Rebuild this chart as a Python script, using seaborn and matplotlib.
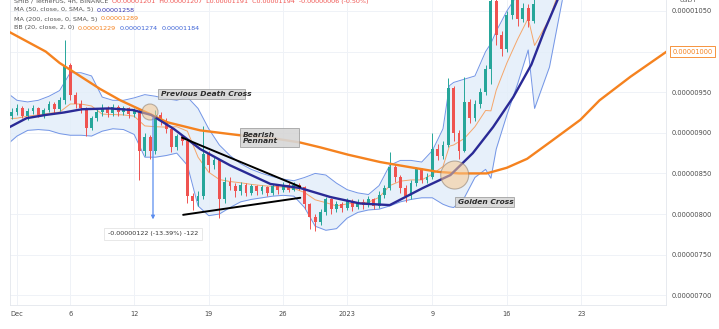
import numpy as np
import pandas as pd
import matplotlib
matplotlib.use("Agg")
import matplotlib.pyplot as plt
import matplotlib.dates as mdates
from matplotlib.patches import Rectangle, Ellipse
from matplotlib.transforms import blended_transform_factory
import seaborn as sns

# ---------------------------------------------------------------------------
# Data (prices in units of 1e-8 USDT, days counted from 2022-12-01 00:00)
# ---------------------------------------------------------------------------
BASE = pd.Timestamp("2022-12-01")
UNIT = 1e-8

candle_start = "2022-11-30 12:00"
candle_freq = "12h"
first_open = 921
close = [926, 931, 921, 927, 930, 922, 928, 936, 929, 940,
         983, 946, 936, 930, 906, 918, 926, 931, 924, 932,
         926, 930, 923, 927, 878, 895, 877, 922, 915, 905,
         882, 896, 890, 822, 816, 822, 874, 860, 866, 818,
         840, 834, 828, 836, 826, 834, 828, 833, 826, 834,
         829, 836, 830, 836, 833, 812, 796, 790, 802, 818,
         806, 812, 808, 816, 809, 815, 811, 818, 810, 824,
         832, 858, 845, 832, 822, 838, 855, 842, 846, 880,
         872, 885, 955, 900, 878, 938, 918, 935, 950, 978,
         1062, 1020, 1003, 1045, 1068, 1040, 1054, 1038, 1058]
high = [930, 935, 933, 930, 934, 932, 931, 939, 938, 944,
        1014, 986, 950, 940, 932, 921, 929, 935, 933, 936,
        934, 933, 932, 931, 929, 900, 897, 928, 925, 918,
        907, 899, 897, 892, 826, 828, 908, 878, 872, 868,
        845, 846, 838, 840, 838, 837, 836, 836, 835, 837,
        836, 839, 838, 839, 838, 835, 814, 800, 806, 821,
        820, 816, 815, 820, 818, 819, 818, 822, 820, 828,
        836, 876, 862, 848, 836, 842, 858, 857, 850, 900,
        886, 890, 967, 958, 904, 969, 942, 940, 955, 984,
        1075, 1066, 1025, 1050, 1080, 1070, 1060, 1058, 1066]
low = [917, 922, 918, 916, 923, 919, 918, 925, 924, 927,
       936, 940, 930, 924, 896, 903, 914, 921, 919, 921,
       921, 922, 918, 920, 842, 872, 868, 874, 909, 900,
       876, 879, 885, 814, 805, 810, 818, 852, 855, 795,
       814, 829, 821, 824, 822, 823, 824, 825, 822, 824,
       825, 827, 827, 828, 829, 806, 782, 779, 786, 799,
       800, 802, 803, 805, 804, 806, 806, 809, 806, 808,
       820, 829, 840, 826, 815, 819, 835, 838, 838, 843,
       866, 868, 882, 890, 868, 876, 912, 914, 930, 946,
       960, 1008, 995, 1000, 1040, 1032, 1036, 1030, 1035]

# Bollinger Bands (20, 2)
bb_day = [-0.7, 0, 1, 2, 3, 4, 5, 6, 7, 8, 9, 10, 11, 12, 13, 14, 15, 16, 17,
          18, 19, 20, 21, 22, 23, 24, 25, 26, 27, 28, 29, 30, 31, 32, 33, 34,
          35, 36, 37, 38, 39, 40, 40.6, 41, 42, 43, 44, 44.5, 45, 46, 47, 48,
          48.6, 50, 51.2]
bb_upper = [947, 940, 938, 940, 945, 952, 974, 974, 970, 944, 940, 940, 943,
            947, 945, 942, 940, 944, 930, 905, 885, 872, 862, 855, 850, 846,
            843, 841, 845, 850, 848, 838, 830, 826, 824, 835, 860, 866, 866,
            864, 878, 905, 958, 962, 966, 970, 1000, 1010, 1025, 1050, 1070,
            1080, 1085, 1100, 1110]
bb_lower = [888, 896, 903, 904, 903, 899, 897, 897, 896, 902, 905, 904, 898,
            870, 870, 872, 875, 860, 810, 798, 800, 808, 815, 818, 820, 822,
            823, 822, 808, 785, 780, 782, 795, 802, 805, 806, 810, 815, 818,
            820, 820, 812, 809, 808, 820, 845, 855, 844, 880, 922, 960, 1002,
            930, 981, 1063]

# MA 50
ma50_day = [-0.7, 0.9, 2.7, 4.4, 6.1, 8.7, 10.9, 12.6, 14.7, 17.2, 20.0, 23.8,
            26.6, 29.4, 32.2, 35.0, 38.1, 40.7, 42.8, 44.7, 46.6, 48.3, 49.5,
            50.9]
ma50 = [907, 918, 922, 925, 929, 930, 928, 922, 905, 880, 860, 837, 832, 821,
        813, 811, 832, 848, 875, 907, 944, 984, 1025, 1068]

# MA 200
ma200_day = [-0.7, 2.7, 4.0, 7.8, 9.7, 12.5, 14.1, 17.2, 20.9, 24.2, 26.6,
             28.5, 31.1, 34.1, 37.2, 39.5, 41.5, 44.1, 46.0, 47.9, 50.1, 52.9,
             54.7, 57.6, 61.0]
ma200 = [1024, 1000, 986, 954, 940, 923, 913, 903, 897, 893, 888, 882, 873,
         864, 857, 852, 850, 850, 857, 868, 889, 916, 940, 969, 1000]

# Pennant trend lines (day, price)
pennant_top = ([15.5, 26.6], [894, 833.5])
pennant_bottom = ([15.6, 26.6], [799, 820])

# Measured move
move_day = 12.77
move_from, move_to = 922, 790
move_label = "-0.00000122 (-13.39%) -122"

price_ticks = [700, 750, 800, 850, 900, 950, 1000, 1050]
date_ticks = ["2022-12-01", "2022-12-06", "2022-12-12", "2022-12-19",
              "2022-12-26", "2023-01-01", "2023-01-09", "2023-01-16",
              "2023-01-23"]
date_labels = ["Dec", "6", "12", "19", "26", "2023", "9", "16", "23"]

# ---------------------------------------------------------------------------
UP, DOWN = "#26a69a", "#ef5350"
NAVY, ORANGE = "#2a2a96", "#f5821f"
BAND, BAND_FILL, BASIS = "#7395e6", "#e2edf9", "#f5a66a"


def to_dates(days):
    return BASE + pd.to_timedelta(np.asarray(days, dtype=float), unit="D")


def dnum(day):
    return mdates.date2num(BASE + pd.Timedelta(days=day))


sns.set_theme(style="white")
plt.rcParams["font.family"] = ["DejaVu Sans"]

fig = plt.figure(figsize=(7.19, 3.29), dpi=100)
fig.patch.set_facecolor("white")
ax = fig.add_axes([10 / 719, 24 / 329, 656 / 719, 305 / 329])

candles = pd.DataFrame({
    "time": pd.date_range(candle_start, periods=len(close), freq=candle_freq),
    "close": close, "high": high, "low": low,
})
candles["open"] = [first_open] + close[:-1]
candles["rising"] = candles["close"] >= candles["open"]

bb = pd.DataFrame({"time": to_dates(bb_day), "upper": bb_upper, "lower": bb_lower})
bb["basis"] = (bb["upper"] + bb["lower"]) / 2
ma50_df = pd.DataFrame({"time": to_dates(ma50_day), "value": ma50})
ma200_df = pd.DataFrame({"time": to_dates(ma200_day), "value": ma200})

# Bollinger band area
ax.fill_between(bb["time"], bb["lower"], bb["upper"], color=BAND_FILL,
                alpha=0.8, lw=0, zorder=1)
sns.lineplot(data=bb, x="time", y="upper", ax=ax, color=BAND, lw=0.7, zorder=2)
sns.lineplot(data=bb, x="time", y="lower", ax=ax, color=BAND, lw=0.7, zorder=2)
sns.lineplot(data=bb, x="time", y="basis", ax=ax, color=BASIS, lw=0.7, zorder=2)

# Candles
colors = np.where(candles["rising"], UP, DOWN)
ax.vlines(candles["time"], candles["low"], candles["high"], colors=colors,
          lw=0.7, zorder=3)
body_low = np.minimum(candles["open"], candles["close"])
body_h = np.maximum(np.abs(candles["close"] - candles["open"]), 1.2)
ax.bar(candles["time"], body_h, bottom=body_low, width=0.27, color=colors,
       lw=0, zorder=3)

# Moving averages
sns.lineplot(data=ma200_df, x="time", y="value", ax=ax, color=ORANGE, lw=1.7,
             zorder=4)
sns.lineplot(data=ma50_df, x="time", y="value", ax=ax, color=NAVY, lw=1.7,
             zorder=4)

# Pennant lines
ax.plot(to_dates(pennant_top[0]), pennant_top[1], color="black", lw=1.4, zorder=5)
ax.plot(to_dates(pennant_bottom[0]), pennant_bottom[1], color="black", lw=1.4,
        zorder=5)

# Cross markers (circles sized in pixels)
px_per_day = 656 / (60.94 + 0.657)
px_per_unit = 305 / (1063.5 - 688)
for day, price, radius in [(12.49, 925.6, 8), (41.1, 848, 14)]:
    ax.add_patch(Ellipse((dnum(day), price), 2 * radius / px_per_day,
                         2 * radius / px_per_unit, facecolor="#f9c98f",
                         alpha=0.55, edgecolor="#8a7a6a", lw=0.8, zorder=6))

# Labelled boxes
for (d0, d1, p0, p1, label) in [
        (13.24, 21.4, 941.7, 954.0, "Previous Death Cross"),
        (20.94, 26.48, 882.5, 905.9, "Bearish\nPennant"),
        (41.13, 46.67, 808.6, 820.9, "Golden Cross")]:
    ax.add_patch(Rectangle((dnum(d0), p0), dnum(d1) - dnum(d0), p1 - p0,
                           facecolor="#d6d6d6", edgecolor="#9a9a9a", lw=0.6,
                           alpha=0.9, zorder=7))
    ax.text(dnum(d0) + 0.25, (p0 + p1) / 2, label, ha="left", va="center",
            fontsize=5.4, fontstyle="italic", fontweight="bold",
            color="#2b2b2b", linespacing=1.0, zorder=8)

# Measured move arrow and label
ax.annotate("", xy=(dnum(move_day), move_to), xytext=(dnum(move_day), move_from),
            arrowprops=dict(arrowstyle="-|>", color="#5b8def", lw=0.9,
                            mutation_scale=5), zorder=6)
ax.text(dnum(move_day), 776, move_label, ha="center", va="center",
        fontsize=4.6, color="#333333", zorder=8,
        bbox=dict(boxstyle="square,pad=0.55", facecolor="white",
                  edgecolor="#e4e4e4", lw=0.6))

# Axes limits, ticks and grid
ax.set_xlim(BASE - pd.Timedelta(days=0.657), BASE + pd.Timedelta(days=60.94))
ax.set_ylim(688, 1063.5)
ax.set_xlabel("")
ax.set_ylabel("")
ax.set_xticks(pd.to_datetime(date_ticks))
ax.set_xticklabels(date_labels)
ax.yaxis.tick_right()
ax.set_yticks(price_ticks)
ax.set_yticklabels([f"{v * UNIT:.8f}" for v in price_ticks])
ax.tick_params(axis="both", length=0, labelsize=4.8, labelcolor="#4a4a4a")
ax.tick_params(axis="x", pad=4.2)
ax.tick_params(axis="y", pad=4.0)
ax.grid(True, color="#eff2f7", lw=0.7, zorder=0)
ax.set_axisbelow(True)
for side, spine in ax.spines.items():
    spine.set_color("#e3e6ec")
    spine.set_linewidth(0.6)
ax.spines["top"].set_visible(False)

# Last MA200 value tag on the price scale
tag_tr = blended_transform_factory(ax.transAxes, ax.transData)
ax.text(1.0095, 1000, f"{1000 * UNIT:.8f}", transform=tag_tr, ha="left",
        va="center", fontsize=4.8, color=ORANGE, clip_on=False, zorder=10,
        bbox=dict(boxstyle="square,pad=0.35", facecolor="white",
                  edgecolor=ORANGE, lw=0.6))


# Legend header: each row is a chain of coloured text pieces
def chained(y_px, parts, x_px=14):
    piece = None
    for text, color in parts:
        if piece is None:
            piece = fig.text(x_px / 719, 1 - y_px / 329, text, color=color,
                             fontsize=4.6, ha="left", va="center")
        else:
            piece = ax.annotate(text, xy=(1, 0.5), xycoords=piece,
                                xytext=(2.5, 0), textcoords="offset points",
                                ha="left", va="center", fontsize=4.6,
                                color=color, annotation_clip=False)
    return piece


HEAD = "#555555"
RED_TXT = "#ef5350"
BLUE_TXT = "#3c62d6"
chained(1, [("SHIB / TetherUS, 4h, BINANCE", HEAD),
            ("O0.00001201  H0.00001207  L0.00001191  C0.00001194  "
             "-0.00000006 (-0.50%)", RED_TXT)])
chained(10, [("MA (50, close, 0, SMA, 5)", HEAD), ("0.00001258", "#3434b0")])
chained(19, [("MA (200, close, 0, SMA, 5)", HEAD), ("0.00001289", ORANGE)])
chained(28, [("BB (20, close, 2, 0)", HEAD), ("0.00001229", ORANGE),
             ("0.00001274", BLUE_TXT), ("0.00001184", BLUE_TXT)])
fig.text(680 / 719, 1 - 1 / 329, "USDT", fontsize=4.6, color=HEAD,
         ha="left", va="center")

fig.savefig("out.png", dpi=100, facecolor="white")
